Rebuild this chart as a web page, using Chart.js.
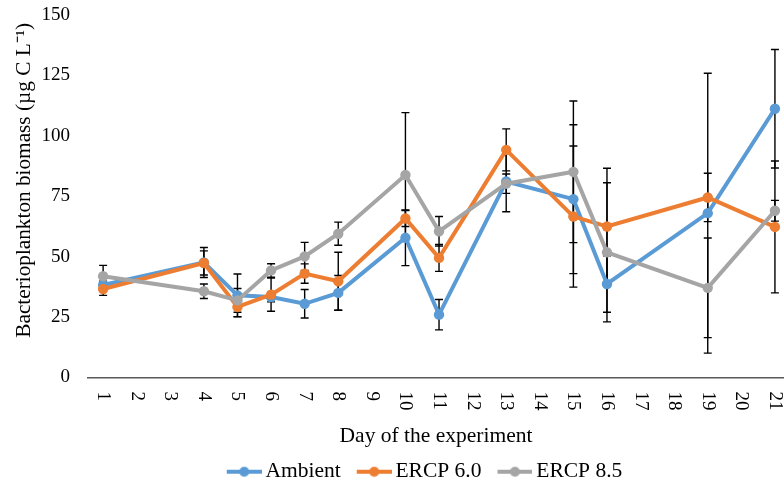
<!DOCTYPE html>
<html>
<head>
<meta charset="utf-8">
<script src="https://cdn.jsdelivr.net/npm/chart.js@4/dist/chart.umd.min.js"></script>
<style>
  html, body { margin: 0; padding: 0; background: #ffffff; }
  #wrap { width: 784px; height: 483px; position: relative; }
</style>
</head>
<body>
<div id="wrap"><canvas id="c" width="784" height="483"></canvas></div>
<script>
// ---- data ----
const days = [1, 4, 5, 6, 7, 8, 10, 11, 13, 15, 16, 19, 21];
const xTickLabels = ['1','2','3','4','5','6','7','8','9','10','11','12','13','14','15','16','17','18','19','20','21'];
const yTickValues = [0, 25, 50, 75, 100, 125, 150];

const seriesNames = ['Ambient', 'ERCP 6.0', 'ERCP 8.5'];
const ambient    = [38.3, 47.6, 34.0, 33.3, 30.5, 35.0, 57.8, 26.0, 81.1, 73.8, 38.7, 68.0, 111.2];
const ambientErr = [1.5, 6.2, 8.8, 2.0, 5.9, 7.2, 11.5, 6.3, 12.5, 30.8, 11.7, 57.9, 24.5];
const ercp60     = [36.6, 47.4, 29.2, 34.3, 43.0, 39.8, 65.8, 49.5, 94.2, 66.6, 62.5, 74.5, 62.3];
const ercp60Err  = [2.6, 5.0, 4.1, 6.9, 4.0, 12.0, 3.3, 5.6, 8.7, 29.2, 24.1, 10.0, 27.3];
const ercp85     = [41.9, 35.7, 31.9, 44.3, 50.1, 59.5, 83.8, 60.5, 80.2, 85.1, 51.8, 37.1, 69.0];
const ercp85Err  = [4.5, 3.0, 4.9, 2.8, 5.8, 4.8, 25.8, 6.1, 4.0, 29.3, 28.8, 20.6, 4.3];

const colors = ['#5B9BD5', '#ED7D31', '#A5A5A5'];
const FONT = '"Liberation Serif", "Times New Roman", serif';

function pts(vals, errs) {
  return days.map((d, i) => ({ x: d, y: vals[i], err: errs[i] }));
}

function legendMarker(color) {
  const c = document.createElement('canvas');
  c.width = 56; c.height = 12;
  const g = c.getContext('2d');
  g.strokeStyle = color; g.lineWidth = 4;
  g.beginPath(); g.moveTo(21, 6); g.lineTo(56, 6); g.stroke();
  g.fillStyle = color;
  g.beginPath(); g.arc(38.5, 6, 5, 0, Math.PI * 2); g.fill();
  return c;
}

const seriesVals = [ambient, ercp60, ercp85];
const seriesErrs = [ambientErr, ercp60Err, ercp85Err];
const datasets = seriesNames.map((name, k) => ({
  label: name,
  data: pts(seriesVals[k], seriesErrs[k]),
  borderColor: colors[k],
  backgroundColor: colors[k],
  borderWidth: 4,
  pointRadius: 5.2,
  pointHoverRadius: 5.2,
  pointBorderWidth: 0,
  pointStyle: 'circle',
  tension: 0,
  clip: false,
  order: 2 - k,
  markerImg: legendMarker(colors[k])
}));

const errorBars = {
  id: 'errorBars',
  beforeDatasetsDraw(chart) {
    const ctx = chart.ctx;
    const xs = chart.scales.x, ys = chart.scales.y;
    ctx.save();
    ctx.strokeStyle = '#000000';
    ctx.lineWidth = 1.4;
    chart.data.datasets.forEach(ds => {
      ds.data.forEach(p => {
        const x = xs.getPixelForValue(p.x);
        const yt = ys.getPixelForValue(p.y + p.err);
        const yb = ys.getPixelForValue(p.y - p.err);
        ctx.beginPath();
        ctx.moveTo(x, yt); ctx.lineTo(x, yb);
        ctx.moveTo(x - 4, yt); ctx.lineTo(x + 4, yt);
        ctx.moveTo(x - 4, yb); ctx.lineTo(x + 4, yb);
        ctx.stroke();
      });
    });
    ctx.restore();
  }
};

const rotatedXTicks = {
  id: 'rotatedXTicks',
  afterDraw(chart) {
    const ctx = chart.ctx;
    const xs = chart.scales.x;
    ctx.save();
    ctx.fillStyle = '#000000';
    ctx.font = '19px ' + FONT;
    ctx.textAlign = 'left';
    ctx.textBaseline = 'middle';
    xs.ticks.forEach(t => {
      const x = xs.getPixelForValue(t.value);
      ctx.save();
      ctx.translate(x, xs.top + 14);
      ctx.rotate(Math.PI / 2);
      ctx.fillText(xTickLabels[t.value - 1], 0, 0);
      ctx.restore();
    });
    ctx.restore();
  }
};

const legendShift = {
  id: 'legendShift',
  afterLayout(chart) {
    const lg = chart.legend;
    if (lg) { lg.left += 21.5; lg.right += 21.5; lg.top += 9.5; lg.bottom += 9.5; }
  }
};

new Chart(document.getElementById('c'), {
  type: 'line',
  data: { datasets },
  options: {
    responsive: false,
    animation: false,
    devicePixelRatio: 1,
    layout: { autoPadding: false, padding: { left: 8, right: 0, top: 15, bottom: 0 } },
    plugins: {
      tooltip: { enabled: false },
      legend: {
        position: 'bottom',
        labels: {
          font: { family: FONT, size: 21.5 },
          color: '#000000',
          usePointStyle: true,
          pointStyleWidth: 42,
          boxHeight: 12,
          padding: 2,
          sort: (a, b) => a.datasetIndex - b.datasetIndex,
          generateLabels(chart) {
            return chart.data.datasets.map((ds, i) => ({
              text: ds.label,
              datasetIndex: i,
              pointStyle: ds.markerImg,
              fillStyle: ds.borderColor,
              strokeStyle: ds.borderColor,
              lineWidth: 0,
              hidden: false,
              fontColor: '#000000'
            }));
          }
        }
      }
    },
    scales: {
      x: {
        type: 'linear',
        min: 0.55,
        max: 21.27,
        afterBuildTicks(scale) {
          scale.ticks = xTickLabels.map((l, i) => ({ value: i + 1 }));
        },
        afterFit(scale) { scale.height = 72; scale.paddingLeft = 0; scale.paddingRight = 0; },
        grid: { display: false, drawTicks: false },
        border: { display: true, color: '#595959', width: 1.5 },
        ticks: { display: false },
        title: {
          display: true,
          text: 'Day of the experiment',
          font: { family: FONT, size: 21.5 },
          color: '#000000',
          padding: { top: 4, bottom: 0 }
        }
      },
      y: {
        min: 0,
        max: 150,
        afterBuildTicks(scale) {
          scale.ticks = yTickValues.map(v => ({ value: v }));
        },
        afterFit(scale) { scale.width = 80; scale.paddingTop = 0; scale.paddingBottom = 0; },
        grid: { display: false, drawTicks: false },
        border: { display: false },
        ticks: {
          font: { family: FONT, size: 19 },
          color: '#000000',
          padding: 18
        },
        title: {
          display: true,
          text: '      Bacterioplankton biomass (µg C L⁻¹)',
          font: { family: FONT, size: 21.25 },
          color: '#000000',
          padding: { top: 4, bottom: 4 }
        }
      }
    }
  },
  plugins: [errorBars, rotatedXTicks, legendShift]
});
</script>
</body>
</html>
